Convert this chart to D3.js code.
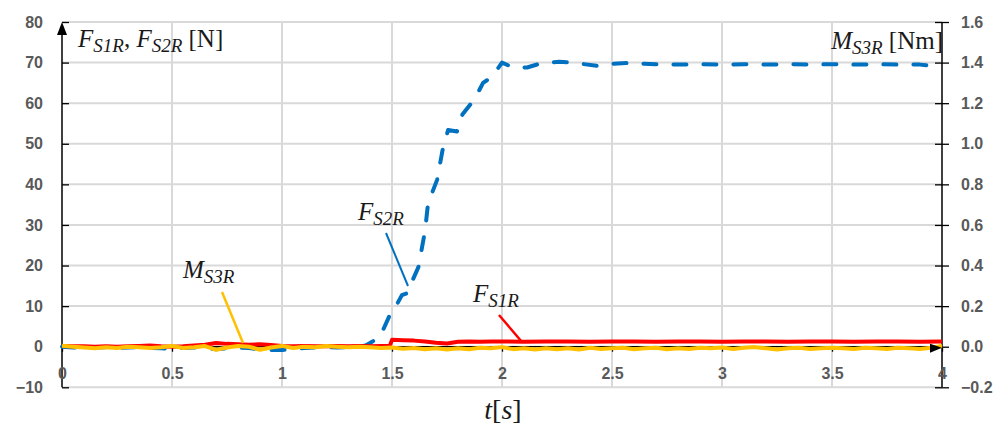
<!DOCTYPE html>
<html><head><meta charset="utf-8">
<script src="https://cdn.jsdelivr.net/npm/d3@7/dist/d3.min.js"></script>
<style>body{margin:0;background:#fff}svg{display:block}</style>
</head><body><svg id="c" width="1002" height="426"></svg>
<script>
// ---- data ----
const leftTicks = [-10,0,10,20,30,40,50,60,70,80];
const rightTicks = [-0.2,0.0,0.2,0.4,0.6,0.8,1.0,1.2,1.4,1.6];
const xTicks = [0,0.5,1,1.5,2,2.5,3,3.5,4];
const xTickLabels = ["0","0.5","1","1.5","2","2.5","3","3.5","4"];

// F_S2R [N] (blue dashed)
const tS2R = [0,0.05,0.1,0.15,0.2,0.25,0.3,0.35,0.4,0.45,0.5,0.55,0.6,0.65,0.7,0.75,0.8,0.85,0.9,0.95,1.0,1.05,1.1,1.15,1.2,1.25,1.3,1.35,
  1.38,1.40,1.445,1.49,1.50,1.545,1.57,1.58,1.62,1.65,1.664,1.67,1.705,1.73,1.755,1.795,1.82,1.855,1.886,1.914,1.955,2.0,2.05,2.114,2.17,2.26,2.32,2.43,2.5,2.57,
  2.7,2.8,2.9,3.0,3.1,3.2,3.3,3.4,3.5,3.6,3.7,3.8,3.9,3.95,4.0];
const vS2R = [0,-0.2,-0.3,-0.2,-0.1,-0.3,-0.2,-0.1,-0.3,-0.4,-0.5,-0.3,-0.2,-0.3,-0.6,-0.4,-0.2,-0.3,-0.7,-0.8,-0.8,-0.6,-0.3,-0.2,-0.1,-0.2,-0.1,0.0,
  0.3,0.9,2.4,7.8,8.2,12.7,13.2,14.7,19.6,28.5,35.4,36.2,41.1,48.5,53.4,53.0,57.2,59.6,62.1,65.0,66.5,70.0,68.8,68.8,69.7,70.2,70.0,69.2,69.7,69.9,
  69.6,69.5,69.6,69.5,69.6,69.5,69.6,69.5,69.6,69.5,69.6,69.5,69.5,69.2,70.0];

// F_S1R [N] (red)
const tS1R = [0,0.05,0.1,0.15,0.2,0.25,0.3,0.35,0.4,0.45,0.5,0.55,0.6,0.65,0.7,0.75,0.8,0.85,0.9,0.95,1.0,1.05,1.1,1.15,1.2,1.25,1.3,1.35,1.4,1.45,1.49,
  1.5,1.55,1.6,1.65,1.7,1.75,1.8,1.85,1.9,1.95,2.0,2.1,2.2,2.3,2.4,2.5,2.6,2.7,2.8,2.9,3.0,3.1,3.2,3.3,3.4,3.5,3.6,3.7,3.8,3.9,4.0];
const vS1R = [0.2,0.1,0.1,0.0,0.1,0.0,0.1,0.2,0.3,0.1,0.0,0.1,0.3,0.5,0.9,0.7,0.6,0.5,0.6,0.4,0.2,0.1,0.2,0.1,0.1,0.2,0.1,0.2,0.1,0.2,0.2,
  1.7,1.6,1.5,1.3,1.0,0.8,1.2,1.3,1.2,1.3,1.3,1.2,1.3,1.3,1.2,1.3,1.3,1.2,1.3,1.3,1.2,1.3,1.3,1.2,1.3,1.3,1.2,1.3,1.3,1.2,1.3];

// M_S3R [Nm] (yellow, right axis)
const tS3R = [0,0.05,0.1,0.15,0.2,0.25,0.3,0.35,0.4,0.45,0.5,0.55,0.6,0.65,0.7,0.75,0.8,0.85,0.9,0.95,1.0,1.05,1.1,1.15,1.2,1.25,1.3,1.35,1.4,1.45,1.5,1.55,1.6,1.65,1.7,1.75,1.8,1.85,1.9,1.95,
  2.0,2.05,2.1,2.15,2.2,2.25,2.3,2.35,2.4,2.45,2.5,2.55,2.6,2.65,2.7,2.75,2.8,2.85,2.9,2.95,3.0,3.05,3.1,3.15,3.2,3.25,3.3,3.35,3.4,3.45,3.5,3.55,3.6,3.65,3.7,3.75,3.8,3.85,3.9,3.95,4.0];
const vS3R = [0.005,0.0,-0.004,-0.007,-0.003,-0.006,0.0,-0.003,-0.006,-0.003,0.004,-0.006,-0.003,0.003,-0.015,-0.004,0.004,0.0,-0.015,-0.004,0.004,-0.006,0.0,-0.003,0.003,0.0,-0.003,0.0,-0.003,-0.006,
  -0.004,-0.01,-0.006,-0.012,-0.008,-0.014,-0.008,-0.012,-0.005,-0.008,-0.002,-0.012,-0.008,-0.014,-0.008,-0.012,-0.008,-0.014,-0.005,-0.011,-0.008,-0.005,-0.012,-0.008,-0.005,-0.012,-0.008,-0.011,-0.005,-0.008,
  -0.004,-0.011,-0.005,-0.002,-0.008,-0.014,-0.008,-0.005,-0.011,-0.008,-0.005,-0.008,-0.011,-0.005,-0.008,-0.011,-0.005,-0.008,-0.011,-0.005,0.003];

// ---- chart ----
const svg = d3.select("#c");
const x = d3.scaleLinear().domain([0,4]).range([62,942]);
const yL = d3.scaleLinear().domain([-10,80]).range([387.3,22]);
const yR = d3.scaleLinear().domain([-0.2,1.6]).range([387.3,22]);

const grid = svg.append("g");
grid.selectAll("line.h").data(leftTicks).join("line")
  .attr("x1",x(0)).attr("x2",x(4)).attr("y1",d=>yL(d)).attr("y2",d=>yL(d))
  .attr("stroke","#d9d9d9").attr("stroke-width",2);
grid.selectAll("line.v").data(xTicks.slice(1,-1)).join("line")
  .attr("x1",d=>x(d)).attr("x2",d=>x(d)).attr("y1",yL(80)).attr("y2",yL(-10))
  .attr("stroke","#d9d9d9").attr("stroke-width",2);

// left axis
const axL = svg.append("g").attr("transform",`translate(${x(0)},0)`)
  .call(d3.axisLeft(yL).tickValues(leftTicks).tickSize(7).tickPadding(12).tickFormat(d3.format("d")));
axL.select(".domain").remove();
axL.selectAll(".tick line").attr("x2",7).attr("stroke","#000").attr("stroke-width",1.3);
axL.append("line").attr("x1",0).attr("x2",0).attr("y1",yL(-10)).attr("y2",yL(80)+8).attr("stroke","#000").attr("stroke-width",1.5);
axL.append("path").attr("d",`M0,${yL(80)} L-5,${yL(80)+13} L5,${yL(80)+13} Z`).attr("fill","#000");

// right axis
const axR = svg.append("g").attr("transform",`translate(${x(4)},0)`)
  .call(d3.axisRight(yR).tickValues(rightTicks).tickSize(7).tickPadding(12).tickFormat(d3.format(".1f")));
axR.select(".domain").remove();
axR.selectAll(".tick line").attr("x1",-7).attr("stroke","#000").attr("stroke-width",1.3);
axR.append("line").attr("x1",0).attr("x2",0).attr("y1",yR(-0.2)).attr("y2",yR(1.6)).attr("stroke","#000").attr("stroke-width",1.5);

// x axis at zero
const axX = svg.append("g").attr("transform",`translate(0,${yL(0)})`)
  .call(d3.axisBottom(x).tickValues(xTicks).tickSize(5).tickPadding(16).tickFormat((d,i)=>xTickLabels[i]));
axX.select(".domain").remove();
axX.selectAll(".tick line").attr("stroke","#000").attr("stroke-width",1.3);
axX.append("line").attr("x1",x(0)).attr("x2",x(4)).attr("y1",0).attr("y2",0).attr("stroke","#000").attr("stroke-width",1.2);

[axL,axR,axX].forEach(a=>a.selectAll("text").attr("fill","#595959").style("font-family","'Liberation Sans',Arial,sans-serif").style("font-size","16px").style("font-weight","bold"));

// series
const lineL = (ts,vs)=>d3.line().x((d,i)=>x(ts[i])).y(d=>yL(d))(vs);
const lineR = (ts,vs)=>d3.line().x((d,i)=>x(ts[i])).y(d=>yR(d))(vs);
svg.append("path").attr("d",lineL(tS2R,vS2R)).attr("fill","none").attr("stroke","#0070C0")
  .attr("stroke-width",4).attr("stroke-dasharray","13,17").attr("stroke-linecap","round").attr("stroke-linejoin","round");
svg.append("path").attr("d",lineL(tS1R,vS1R)).attr("fill","none").attr("stroke","#FF0000")
  .attr("stroke-width",4).attr("stroke-linejoin","round");
svg.append("path").attr("d",lineR(tS3R,vS3R)).attr("fill","none").attr("stroke","#FFC000")
  .attr("stroke-width",4).attr("stroke-linejoin","round");

// arrow at x-axis end
svg.append("path").attr("d",`M${x(4)},${yL(0)+1} L${x(4)-12},${yL(0)-3} L${x(4)-12},${yL(0)+6} Z`).attr("fill","#000");

// leader lines
svg.append("line").attr("x1",386).attr("y1",233).attr("x2",408).attr("y2",286).attr("stroke","#0070C0").attr("stroke-width",2);
svg.append("line").attr("x1",222).attr("y1",292).attr("x2",243).attr("y2",343).attr("stroke","#FFC000").attr("stroke-width",2.5);
svg.append("line").attr("x1",499).attr("y1",315).attr("x2",522).attr("y2",342).attr("stroke","#FF0000").attr("stroke-width",2.5);

// labels
const serif = "'Liberation Serif','DejaVu Serif',serif";
function label(xp, yp, parts, anchor){
  const t = svg.append("text").attr("x",xp).attr("y",yp).attr("text-anchor",anchor||"start")
    .style("font-family",serif).style("font-size","25px").attr("fill","#1a1a1a");
  parts.forEach(p=>{
    const s = t.append("tspan").text(p.t);
    if(p.i) s.style("font-style","italic");
    if(p.sub) s.style("font-size","19px").attr("dy",p.dy);
    else if(p.dy) s.attr("dy",p.dy);
  });
  return t;
}
label(78,47,[{t:"F",i:1},{t:"S1R",i:1,sub:1,dy:5},{t:", ",dy:-5},{t:"F",i:1},{t:"S2R",sub:1,dy:5,i:1},{t:" [N]",dy:-5}]);
label(943,49,[{t:"M",i:1},{t:"S3R",i:1,sub:1,dy:5},{t:" [Nm]",dy:-5}],"end");
label(358,220,[{t:"F",i:1},{t:"S2R",i:1,sub:1,dy:5}]);
label(473,302,[{t:"F",i:1},{t:"S1R",i:1,sub:1,dy:5}]);
label(183,278,[{t:"M",i:1},{t:"S3R",i:1,sub:1,dy:5}]);
svg.append("text").attr("x",503).attr("y",419).attr("text-anchor","middle")
  .style("font-family",serif).style("font-size","28px").attr("fill","#1a1a1a")
  .html('<tspan font-style="italic">t</tspan>[<tspan font-style="italic">s</tspan>]');
</script></body></html>
